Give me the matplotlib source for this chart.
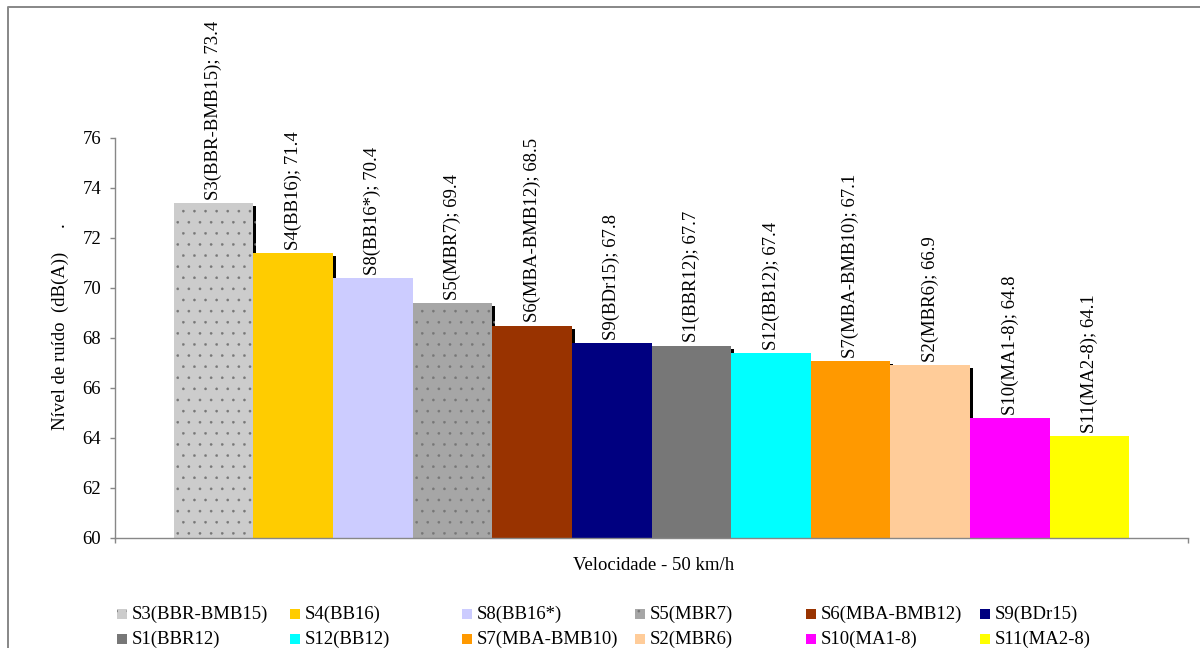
import matplotlib
matplotlib.use("Agg")
import matplotlib.pyplot as plt
import matplotlib.patheffects as pe
from matplotlib.patches import Rectangle
from matplotlib.lines import Line2D

# Noise level per pavement section at 50 km/h
series = ["S3(BBR-BMB15)", "S4(BB16)", "S8(BB16*)", "S5(MBR7)", "S6(MBA-BMB12)",
          "S9(BDr15)", "S1(BBR12)", "S12(BB12)", "S7(MBA-BMB10)", "S2(MBR6)",
          "S10(MA1-8)", "S11(MA2-8)"]
noise_db = [73.4, 71.4, 70.4, 69.4, 68.5, 67.8, 67.7, 67.4, 67.1, 66.9, 64.8, 64.1]
y_ticks = [60, 62, 64, 66, 68, 70, 72, 74, 76]
x_title = "Velocidade - 50 km/h"
y_title = "Nível de ruído  (dB(A))     ."

# Styling
colors = ["#CCCCCC", "#FFCC00", "#CCCCFF", "#A6A6A6", "#993300", "#000080",
          "#777777", "#00FFFF", "#FF9900", "#FFCC99", "#FF00FF", "#FFFF00"]
hatches = ["...", "", "", "...", "", "", "", "", "", "", "", ""]
shadowed = [True, True, False, True, True, False, True, False, True, True, False, False]
dot_color = "#767676"
axis_color = "#878787"

DPI = 200
W, H = 1200, 648


def pt(px):
    return px * 72 / DPI


plt.rcParams["font.family"] = ["Liberation Serif", "DejaVu Serif"]
plt.rcParams["hatch.linewidth"] = pt(0.35)
FS = pt(18.8)

fig = plt.figure(figsize=(W / DPI, H / DPI), dpi=DPI)
ax = fig.add_axes([115 / W, 1 - 538 / H, (1188 - 115) / W, (538 - 138) / H])

x = list(range(len(series)))
bars = ax.bar(x, noise_db, width=1.0, color=colors, linewidth=0, zorder=2)
for bar, h, sh in zip(bars, hatches, shadowed):
    if h:
        bar.set_hatch(h)
        bar.set_edgecolor(dot_color)
        bar.set_linewidth(0)
    if sh:
        bar.set_path_effects([
            pe.SimplePatchShadow(offset=(pt(3), -pt(3)), shadow_rgbFace="black", alpha=1.0),
            pe.Normal(),
        ])

gap = 0.735
ax.set_xlim(-0.5 - gap, len(series) - 0.5 + gap)
ax.set_ylim(y_ticks[0], y_ticks[-1])
ax.set_yticks(y_ticks)
ax.set_xticks([-0.5 - gap, len(series) - 0.5 + gap])
ax.set_xticklabels([])

for s in ("top", "right"):
    ax.spines[s].set_visible(False)
for s in ("left", "bottom"):
    ax.spines[s].set_color(axis_color)
    ax.spines[s].set_linewidth(pt(1.4))
ax.tick_params(axis="y", direction="out", length=pt(5), width=pt(1.4), color=axis_color,
               labelsize=FS, pad=pt(9))
ax.tick_params(axis="x", direction="out", length=pt(5), width=pt(1.4), color=axis_color)

for i, (name, v) in enumerate(zip(series, noise_db)):
    ax.annotate(f"{name}; {v:.1f}", xy=(i, v), xytext=(0, pt(3)),
                textcoords="offset points", rotation=90, ha="center", va="bottom",
                fontsize=FS, annotation_clip=False)

fig.text(654 / W, 1 - 565 / H, x_title, ha="center", va="center", fontsize=FS)
fig.text(60 / W, 1 - 327 / H, y_title, ha="center", va="center", rotation=90, fontsize=FS)

# Legend laid out on a fixed 6 x 2 grid
leg_x = [117, 290, 462, 635, 806, 980]
leg_y = [614, 639]
for k, (name, c, h) in enumerate(zip(series, colors, hatches)):
    row, col = divmod(k, 6)
    x0, yc = leg_x[col], leg_y[row]
    fig.add_artist(Rectangle((x0 / W, 1 - (yc + 5) / H), 10 / W, 10 / H,
                             transform=fig.transFigure, facecolor=c,
                             edgecolor=dot_color if h else c, linewidth=0,
                             hatch=h if h else None))
    fig.text((x0 + 15) / W, 1 - yc / H, name, ha="left", va="center", fontsize=FS)

# Chart frame
fig.add_artist(Line2D([8 / W, 8 / W, 1.0], [0.0, 1 - 7 / H, 1 - 7 / H],
                      transform=fig.transFigure, color="#8a8a8a", linewidth=pt(2)))

fig.savefig("out.png", dpi=DPI)
